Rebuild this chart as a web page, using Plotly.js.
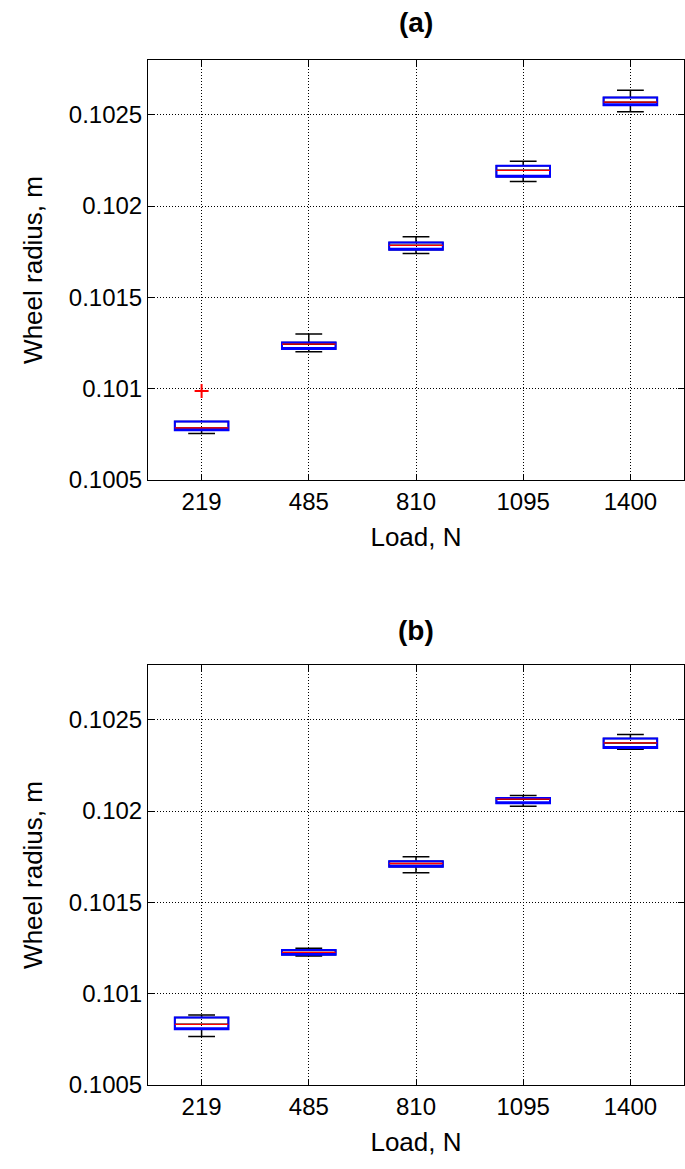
<!DOCTYPE html>
<html>
<head>
<meta charset="utf-8">
<script src="https://cdn.plot.ly/plotly-3.0.1.min.js"></script>
<style>
html,body{margin:0;padding:0;background:#fff;}
#chart{width:685px;height:1169px;}
</style>
</head>
<body>
<div id="chart"></div>
<script>
// Categories (load, N)
var loads = ['219', '485', '810', '1095', '1400'];

// Panel (a) box statistics (wheel radius, m)
var aLower  = [0.100754, 0.101203, 0.101741, 0.102135, 0.102516];
var aQ1     = [0.100772, 0.101218, 0.101761, 0.102160, 0.102552];
var aMedian = [0.100785, 0.101244, 0.101785, 0.102196, 0.102569];
var aQ3     = [0.100820, 0.101253, 0.101801, 0.102221, 0.102594];
var aUpper  = [0.100820, 0.101300, 0.101832, 0.102245, 0.102634];
var aOutlierX = ['219'];
var aOutlierY = [0.100988];

// Panel (b) box statistics (wheel radius, m)
var bLower  = [0.100766, 0.101206, 0.101662, 0.102026, 0.102338];
var bQ1     = [0.100805, 0.101213, 0.101695, 0.102043, 0.102346];
var bMedian = [0.100832, 0.101226, 0.101713, 0.102065, 0.102373];
var bQ3     = [0.100870, 0.101239, 0.101725, 0.102072, 0.102397];
var bUpper  = [0.100883, 0.101249, 0.101750, 0.102085, 0.102420];

// Axis ticks
var yTickVals = [0.1005, 0.101, 0.1015, 0.102, 0.1025];
var yTickText = ['0.1005', '0.101', '0.1015', '0.102', '0.1025'];

var FONT = 'Liberation Sans, Arial, sans-serif';

function boxSet(lower, q1, med, q3, upper, xa, ya) {
  var common = {type: 'box', x: loads, xaxis: xa, yaxis: ya, width: 0.5, whiskerwidth: 0.5,
                fillcolor: 'rgba(0,0,0,0)', hoverinfo: 'skip', showlegend: false, boxpoints: false};
  var whisk = Object.assign({}, common, {q1: q1, median: med, q3: q3, lowerfence: lower, upperfence: upper,
                line: {color: '#000000', width: 1.5}});
  var box = Object.assign({}, common, {q1: q1, median: q1, q3: q3, lowerfence: q1, upperfence: q3,
                line: {color: '#0000ff', width: 2}});
  var medl = Object.assign({}, common, {q1: med, median: med, q3: med, lowerfence: med, upperfence: med,
                line: {color: '#ff0000', width: 1.3}});
  return [whisk, box, medl];
}

var data = [].concat(
  boxSet(aLower, aQ1, aMedian, aQ3, aUpper, 'x', 'y'),
  [{type: 'scatter', mode: 'markers', x: aOutlierX, y: aOutlierY, xaxis: 'x', yaxis: 'y',
    marker: {symbol: 'cross-thin', size: 10, line: {color: '#ff0000', width: 2}},
    showlegend: false, hoverinfo: 'skip'}],
  boxSet(bLower, bQ1, bMedian, bQ3, bUpper, 'x2', 'y2')
);

var W = 685, H = 1169;
function px(v) { return v / W; }
function py(v) { return 1 - v / H; }

function xax(anchor) {
  return {
    anchor: anchor, type: 'category', domain: [px(148), px(684)],
    range: [-0.5, 4.5],
    showgrid: true, gridcolor: '#000000', griddash: '1px,2px', gridwidth: 1,
    showline: true, linecolor: '#000000', linewidth: 1, mirror: 'ticks',
    ticks: 'inside', ticklen: 6, tickcolor: '#000000',
    tickfont: {family: FONT, size: 24, color: '#000'},
    title: {text: 'Load, N', font: {family: FONT, size: 26, color: '#000'}, standoff: 14},
    zeroline: false, fixedrange: true
  };
}
function yax(anchor) {
  return {
    anchor: anchor, range: [0.1005, 0.1028],
    tickvals: yTickVals, ticktext: yTickText,
    showgrid: true, gridcolor: '#000000', griddash: '1px,2px', gridwidth: 1,
    showline: true, linecolor: '#000000', linewidth: 1, mirror: 'ticks',
    ticks: 'inside', ticklen: 6, tickcolor: '#000000',
    tickfont: {family: FONT, size: 24, color: '#000'},
    title: {text: 'Wheel radius, m', font: {family: FONT, size: 26, color: '#000'}, standoff: 18},
    zeroline: false, fixedrange: true
  };
}

var xa1 = xax('y');
var ya1 = yax('x'); ya1.domain = [py(480), py(60)];
var xa2 = xax('y2');
var ya2 = yax('x2'); ya2.domain = [py(1085), py(665)];

var layout = {
  width: W, height: H,
  margin: {l: 0, r: 0, t: 0, b: 0},
  paper_bgcolor: '#ffffff', plot_bgcolor: '#ffffff',
  boxmode: 'overlay',
  showlegend: false,
  xaxis: xa1, yaxis: ya1, xaxis2: xa2, yaxis2: ya2,
  annotations: [
    {text: '<b>(a)</b>', x: px(416), y: py(22), xref: 'paper', yref: 'paper', showarrow: false,
     xanchor: 'center', yanchor: 'middle', font: {family: FONT, size: 28, color: '#000'}},
    {text: '<b>(b)</b>', x: px(416), y: py(630), xref: 'paper', yref: 'paper', showarrow: false,
     xanchor: 'center', yanchor: 'middle', font: {family: FONT, size: 28, color: '#000'}}
  ]
};

Plotly.newPlot('chart', data, layout, {displayModeBar: false, staticPlot: true});
</script>
</body>
</html>
